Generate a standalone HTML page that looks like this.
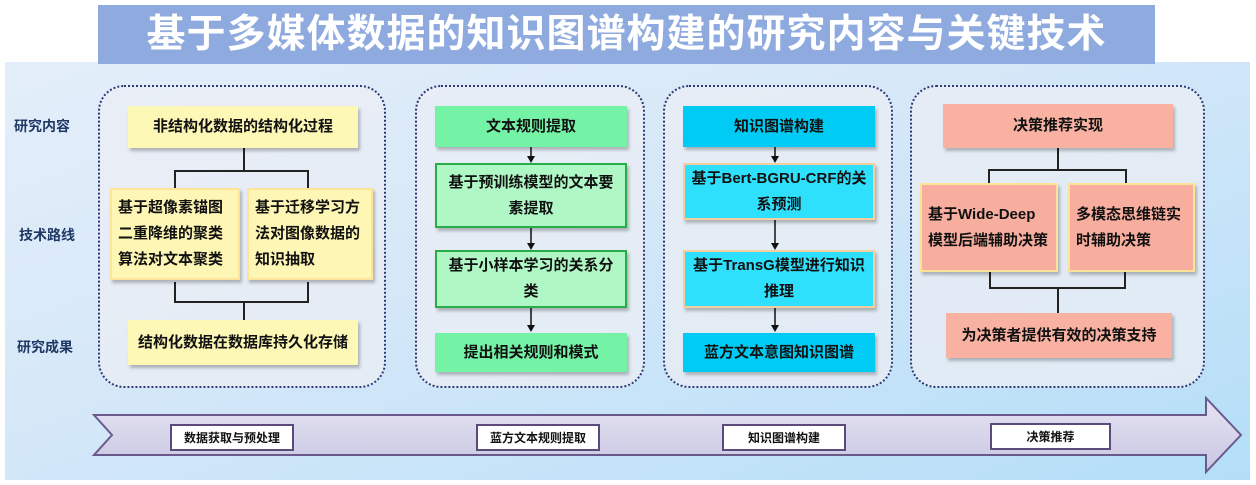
<!DOCTYPE html>
<html><head><meta charset="utf-8"><style>
*{margin:0;padding:0;box-sizing:border-box}
body{width:1256px;height:485px;background:#fff;position:relative;overflow:hidden;font-family:"Liberation Sans","Noto Sans CJK SC",sans-serif;font-weight:bold;color:#111}
.a{position:absolute}
.bg{left:5px;top:62px;width:1245px;height:418px;background:linear-gradient(160deg,#e4eefa 0%,#d6e8f8 40%,#b4def8 100%)}
.title{left:98px;top:5px;width:1057px;height:59px;background:#8eaadf;color:#fff;font-size:39px;text-align:center;line-height:59px;letter-spacing:1px}
.lab{color:#1f3864;font-size:14px}
.grp{border:2px dotted #2a3a78;border-radius:26px;background:rgba(235,238,244,.75)}
.bx{display:flex;align-items:center;justify-content:center;text-align:center;font-size:15px;line-height:26px;box-shadow:2px 3px 3px rgba(0,0,0,.25)}
.y{background:#fdf8b6}
.y2{background:#fef6b4;border:2px solid #fde49a;justify-content:flex-start;text-align:left;padding:0 6px;font-size:15px;line-height:26px}
.g1{background:#74f2a6}
.g2{background:#aff7c4;border:2px solid #28ad4a}
.c1{background:#00cbf4}
.c2{background:#2fe0fd;border:2px solid #f5cfa0}
.s1{background:#f9b2a2}
.s2{background:#f8ae9e;border:2px solid #fbe39a;justify-content:flex-start;text-align:left;padding:0 6px;font-size:15px;line-height:26px}
.tag{background:#fff;border:2px solid #5c4a7c;font-size:12px;display:flex;align-items:center;justify-content:center}
</style></head><body>
<div class="a bg"></div>
<div class="a title">基于多媒体数据的知识图谱构建的研究内容与关键技术</div>
<div class="a lab" style="left:14px;top:116px">研究内容</div>
<div class="a lab" style="left:19px;top:225px">技术路线</div>
<div class="a lab" style="left:17px;top:337px">研究成果</div>

<div class="a grp" style="left:98px;top:85px;width:288px;height:303px"></div>
<div class="a grp" style="left:415px;top:85px;width:230px;height:303px"></div>
<div class="a grp" style="left:663px;top:85px;width:230px;height:303px"></div>
<div class="a grp" style="left:910px;top:85px;width:295px;height:303px"></div>

<svg class="a" style="left:0;top:0" width="1256" height="485">
<g stroke="#222" stroke-width="2" fill="none">
<path d="M244 148 V171 M175 188 V171 H308 V188"/>
<path d="M175 282 V302 H308 V282 M244 302 V320"/>
<path d="M1058 148 V170 M989 183 V170 H1126 V183"/>
<path d="M990 272 V288 H1125 V272 M1058 288 V313"/>
</g>
<g stroke="#111" stroke-width="1.5">
<line x1="531" y1="147" x2="531" y2="157"/><line x1="531" y1="228" x2="531" y2="244"/><line x1="531" y1="308" x2="531" y2="326"/>
<line x1="775" y1="147" x2="775" y2="157"/><line x1="775" y1="220" x2="775" y2="244"/><line x1="775" y1="308" x2="775" y2="326"/>
</g>
<g fill="#111">
<path d="M527 156 L535 156 L531 163z"/><path d="M527 243 L535 243 L531 250z"/><path d="M527 325 L535 325 L531 332z"/>
<path d="M771 156 L779 156 L775 163z"/><path d="M771 243 L779 243 L775 250z"/><path d="M771 325 L779 325 L775 332z"/>
</g>
<defs><linearGradient id="lg" x1="0" y1="0" x2="0" y2="1"><stop offset="0" stop-color="#e6e4f2"/><stop offset="1" stop-color="#c8c6e2"/></linearGradient></defs>
<path d="M94 415 H1206 V398 L1241 435 L1206 472 V455 H94 L112 435 Z" fill="url(#lg)" stroke="#6a5a8c" stroke-width="2"/>
</svg>

<div class="a bx y" style="left:128px;top:106px;width:230px;height:42px">非结构化数据的结构化过程</div>
<div class="a bx y2" style="left:110px;top:188px;width:130px;height:92px">基于超像素锚图二重降维的聚类算法对文本聚类</div>
<div class="a bx y2" style="left:247px;top:188px;width:126px;height:92px">基于迁移学习方法对图像数据的知识抽取</div>
<div class="a bx y" style="left:128px;top:320px;width:230px;height:45px">结构化数据在数据库持久化存储</div>

<div class="a bx g1" style="left:435px;top:106px;width:192px;height:41px">文本规则提取</div>
<div class="a bx g2" style="left:435px;top:163px;width:192px;height:65px">基于预训练模型的文本要<br>素提取</div>
<div class="a bx g2" style="left:435px;top:250px;width:192px;height:58px">基于小样本学习的关系分<br>类</div>
<div class="a bx g1" style="left:435px;top:333px;width:192px;height:39px">提出相关规则和模式</div>

<div class="a bx c1" style="left:683px;top:106px;width:192px;height:41px">知识图谱构建</div>
<div class="a bx c2" style="left:683px;top:163px;width:192px;height:57px">基于Bert-BGRU-CRF的关<br>系预测</div>
<div class="a bx c2" style="left:683px;top:250px;width:192px;height:58px">基于TransG模型进行知识<br>推理</div>
<div class="a bx c1" style="left:683px;top:333px;width:192px;height:39px">蓝方文本意图知识图谱</div>

<div class="a bx s1" style="left:943px;top:104px;width:230px;height:44px">决策推荐实现</div>
<div class="a bx s2" style="left:920px;top:183px;width:138px;height:89px">基于Wide-Deep模型后端辅助决策</div>
<div class="a bx s2" style="left:1068px;top:183px;width:127px;height:89px">多模态思维链实时辅助决策</div>
<div class="a bx s1" style="left:946px;top:313px;width:226px;height:45px">为决策者提供有效的决策支持</div>

<div class="a tag" style="left:170px;top:424px;width:124px;height:27px">数据获取与预处理</div>
<div class="a tag" style="left:476px;top:424px;width:124px;height:27px">蓝方文本规则提取</div>
<div class="a tag" style="left:722px;top:424px;width:124px;height:27px">知识图谱构建</div>
<div class="a tag" style="left:990px;top:423px;width:121px;height:27px">决策推荐</div>
</body></html>
